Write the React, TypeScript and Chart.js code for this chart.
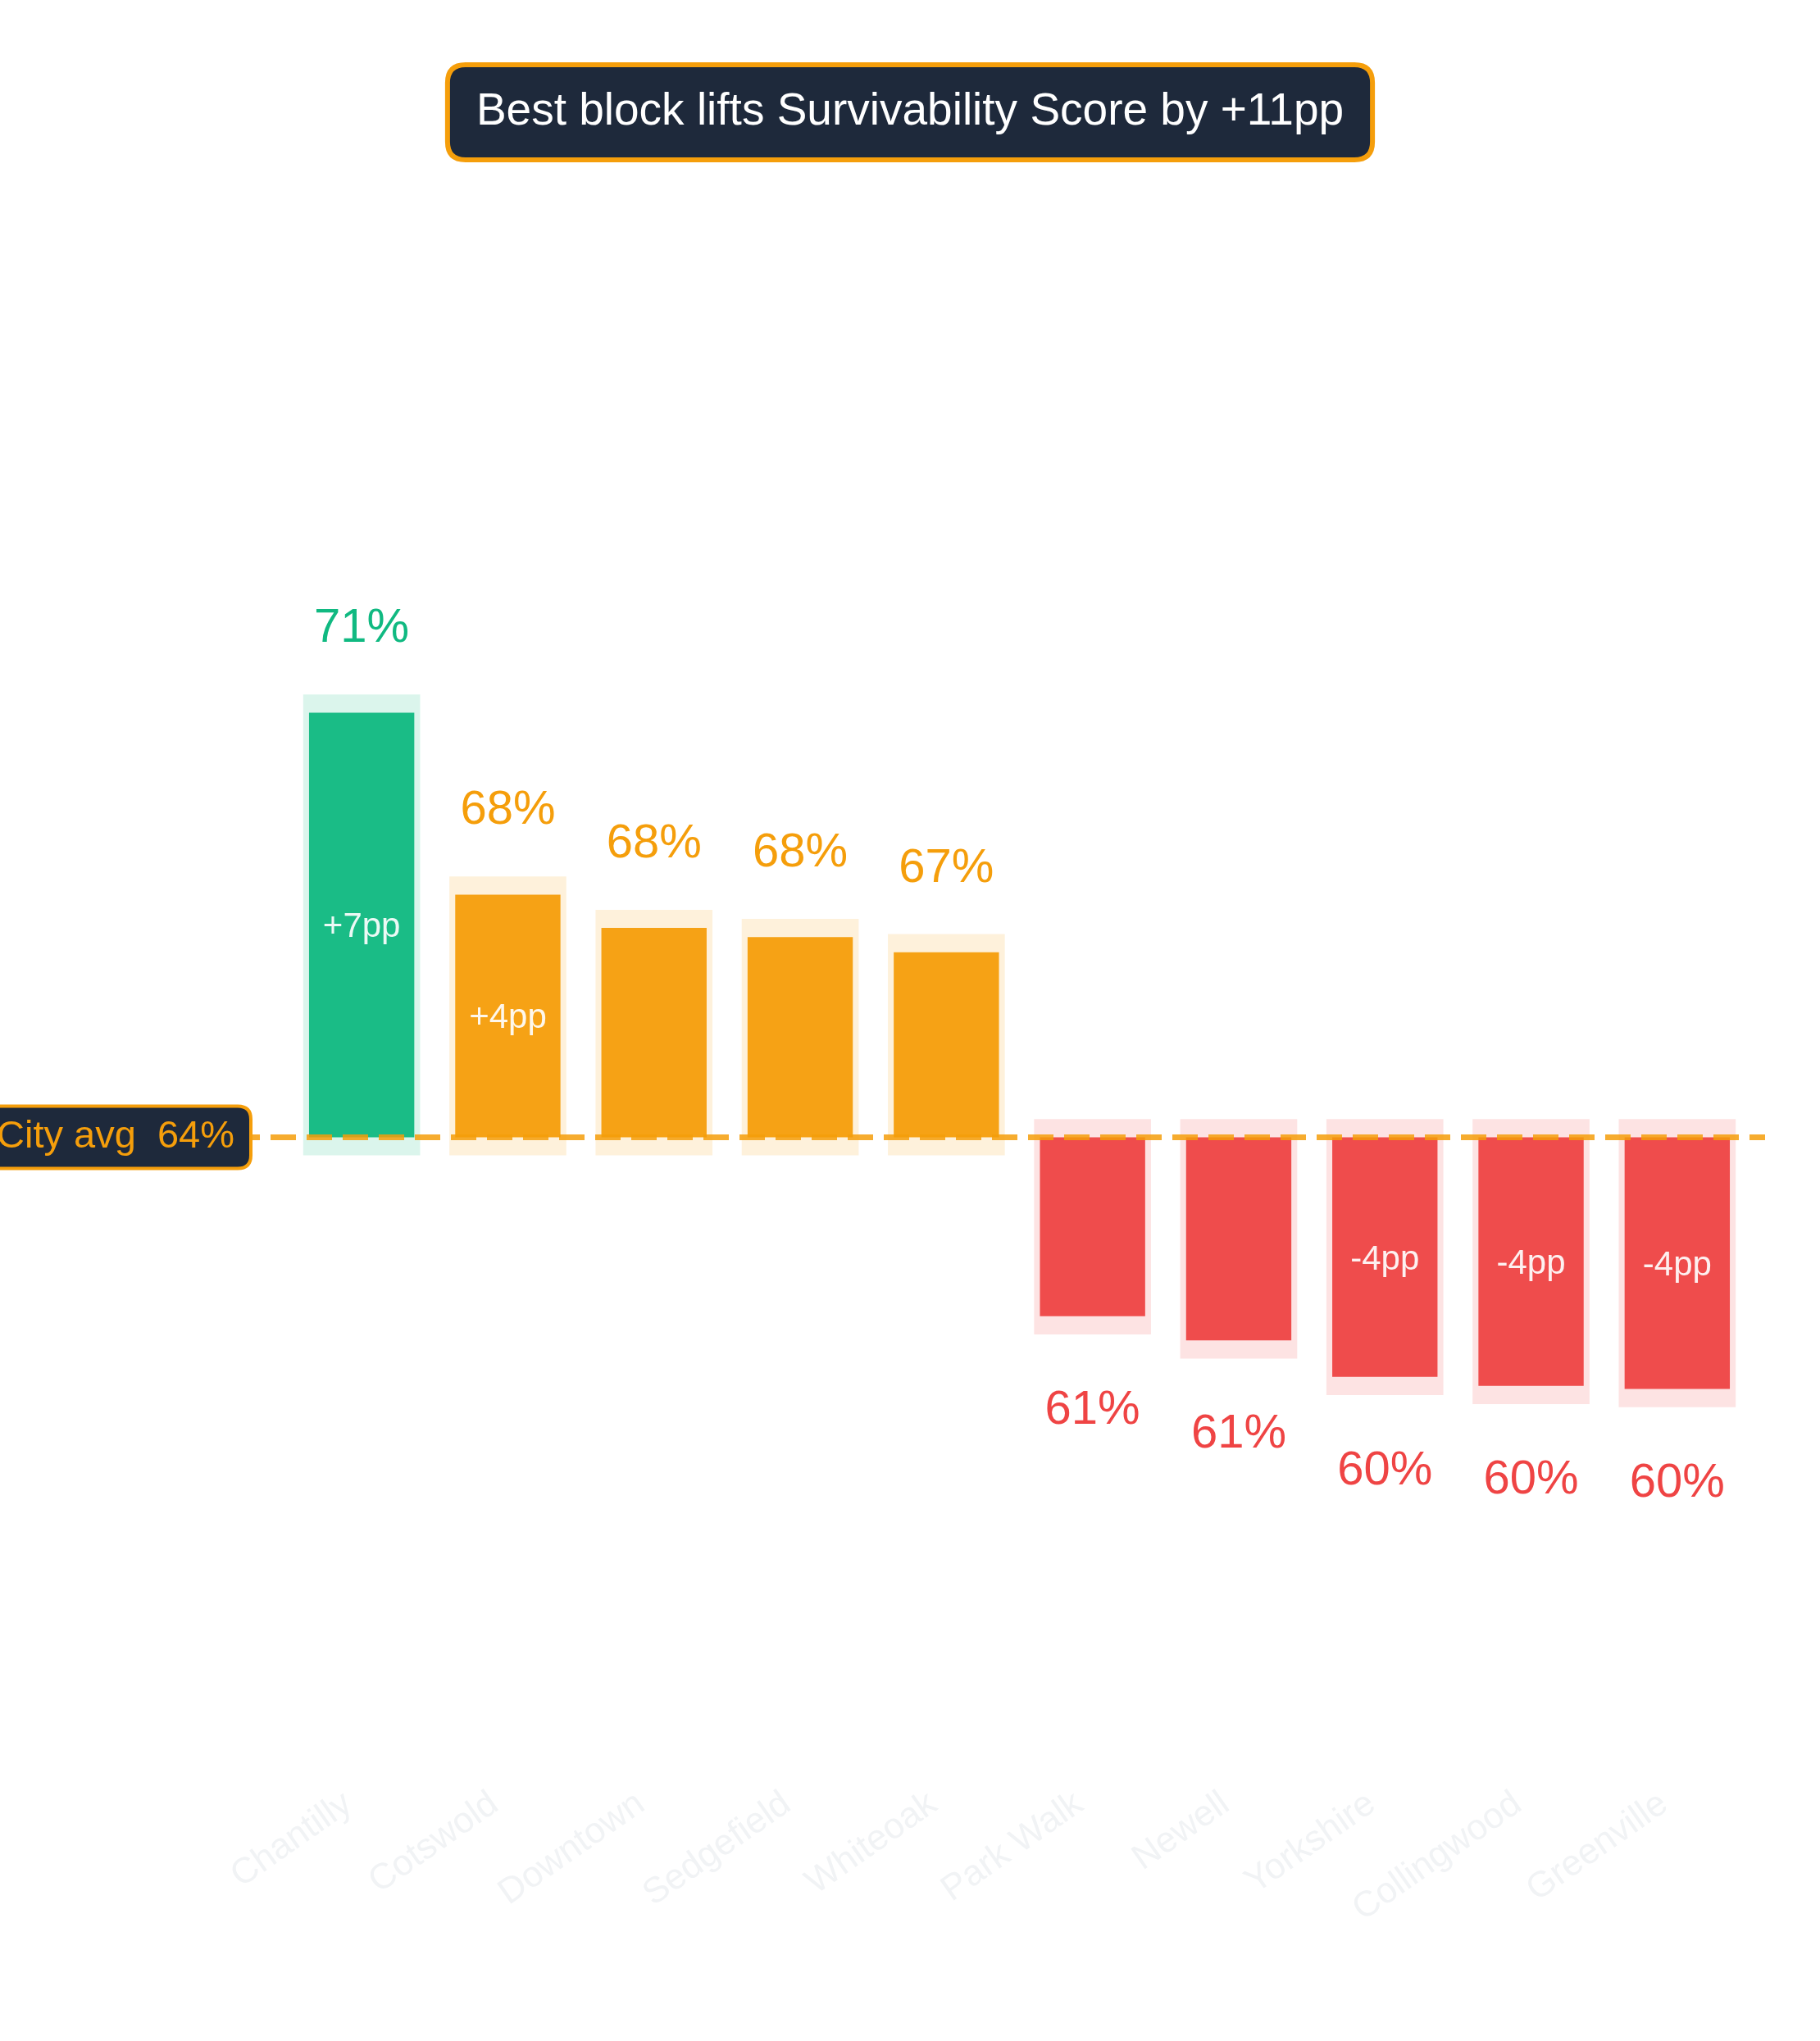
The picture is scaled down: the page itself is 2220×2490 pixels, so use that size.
import { useEffect, useRef } from "react";
import { Chart, registerables } from "chart.js";

Chart.register(...registerables);

const blocks = [
  "Chantilly",
  "Cotswold",
  "Downtown",
  "Sedgefield",
  "Whiteoak",
  "Park Walk",
  "Newell",
  "Yorkshire",
  "Collingwood",
  "Greenville",
];
const scores = [71.4, 68.4, 67.85, 67.7, 67.45, 61.45, 61.05, 60.45, 60.3, 60.25];
const cityAvg = 64.4;

const FONT = '"Liberation Sans", Arial, Helvetica, sans-serif';
const NAVY = "#1e293b";
const GREEN = "16, 185, 129";
const AMBER = "245, 158, 11";
const RED = "239, 68, 68";

const best = Math.max(...scores);
const worst = Math.min(...scores);
const tone = (v: number) => (v === best ? GREEN : v >= cityAvg ? AMBER : RED);

function roundRect(ctx: CanvasRenderingContext2D, x: number, y: number, w: number, h: number, r: number) {
  ctx.beginPath();
  ctx.moveTo(x + r, y);
  ctx.lineTo(x + w - r, y);
  ctx.quadraticCurveTo(x + w, y, x + w, y + r);
  ctx.lineTo(x + w, y + h - r);
  ctx.quadraticCurveTo(x + w, y + h, x + w - r, y + h);
  ctx.lineTo(x + r, y + h);
  ctx.quadraticCurveTo(x, y + h, x, y + h - r);
  ctx.lineTo(x, y + r);
  ctx.quadraticCurveTo(x, y, x + r, y);
  ctx.closePath();
}

const overlay = {
  id: "overlay",
  afterDatasetsDraw(chart: any) {
    const { ctx, chartArea } = chart;
    const xs = chart.scales.x;
    const ys = chart.scales.y;
    const avgY = ys.getPixelForValue(cityAvg);

    ctx.save();
    // city average dashed line
    ctx.strokeStyle = `rgba(${AMBER}, 0.85)`;
    ctx.lineWidth = 7;
    ctx.setLineDash([31, 13]);
    ctx.beginPath();
    ctx.moveTo(22, avgY);
    ctx.lineTo(chartArea.right + 18, avgY);
    ctx.stroke();
    ctx.setLineDash([]);

    scores.forEach((v, i) => {
      const x = xs.getPixelForValue(i);
      const y = ys.getPixelForValue(v);
      const delta = v - cityAvg;
      const d = Math.round(delta);

      // delta inside the bar, only for the big movers
      if (Math.abs(d) >= 4) {
        ctx.font = `42px ${FONT}`;
        ctx.fillStyle = "rgba(255,255,255,0.92)";
        ctx.textAlign = "center";
        ctx.textBaseline = "alphabetic";
        ctx.fillText(`${d > 0 ? "+" : ""}${d}pp`, x, (y + avgY) / 2 + 15);
      }

      // value label
      ctx.font = `58px ${FONT}`;
      ctx.fillStyle = `rgb(${tone(v)})`;
      ctx.textAlign = "center";
      ctx.textBaseline = "alphabetic";
      const ly = delta >= 0 ? y - 86 : y + 131;
      ctx.fillText(`${Math.round(v)}%`, x, ly);
    });

    // city avg tag
    const tag = `City avg  ${Math.round(cityAvg)}%`;
    ctx.font = `47px ${FONT}`;
    const tw = ctx.measureText(tag).width;
    const right = 306;
    const bx = right - tw - 40;
    roundRect(ctx, bx, avgY - 38, tw + 40, 76, 16);
    ctx.fillStyle = NAVY;
    ctx.fill();
    ctx.lineWidth = 4;
    ctx.strokeStyle = `rgb(${AMBER})`;
    ctx.stroke();
    ctx.fillStyle = `rgb(${AMBER})`;
    ctx.textAlign = "right";
    ctx.textBaseline = "alphabetic";
    ctx.fillText(tag, right - 20, avgY + 13);
    ctx.restore();
  },
  afterDraw(chart: any) {
    const { ctx, width } = chart;
    const text = `Best block lifts Survivability Score by +${Math.round(best - worst)}pp`;
    ctx.save();
    ctx.font = `55px ${FONT}`;
    const tw = ctx.measureText(text).width;
    const w = tw + 70;
    const h = 116;
    const x = width / 2 - w / 2;
    const y = 79;
    roundRect(ctx, x, y, w, h, 22);
    ctx.fillStyle = NAVY;
    ctx.fill();
    ctx.lineWidth = 6;
    ctx.strokeStyle = `rgb(${AMBER})`;
    ctx.stroke();
    ctx.fillStyle = "#ffffff";
    ctx.textAlign = "center";
    ctx.textBaseline = "alphabetic";
    ctx.fillText(text, width / 2, 152);
    ctx.restore();
  },
};

function BlockChart() {
  const chartRef = useRef<HTMLCanvasElement | null>(null);

  useEffect(() => {
    const canvas = chartRef.current;
    if (!canvas) return;
    document.body.style.margin = "0";

    const chart = new Chart(canvas, {
      type: "bar",
      data: {
        labels: blocks,
        datasets: [
          {
            label: "Survivability Score",
            data: scores.map((v) => [cityAvg, v]) as any,
            backgroundColor: scores.map((v) => `rgba(${tone(v)}, 0.95)`),
            barPercentage: 0.72,
            categoryPercentage: 1,
            grouped: false,
            order: 0,
          },
          {
            label: "band",
            data: scores.map((v) => [Math.min(v, cityAvg) - 0.3, Math.max(v, cityAvg) + 0.3]) as any,
            backgroundColor: scores.map((v) => `rgba(${tone(v)}, 0.15)`),
            barPercentage: 0.8,
            categoryPercentage: 1,
            grouped: false,
            order: 1,
          },
        ],
      },
      options: {
        responsive: true,
        maintainAspectRatio: false,
        animation: false,
        layout: {
          padding: { top: 233, left: 352, right: 85, bottom: 0 },
        },
        plugins: {
          legend: { display: false },
          tooltip: { enabled: false },
        },
        scales: {
          x: {
            grid: { display: false },
            border: { display: false },
            ticks: {
              color: "#f1f3f5",
              font: { size: 44, family: FONT },
              minRotation: 35,
              maxRotation: 35,
              autoSkip: false,
              padding: 10,
              labelOffset: -16,
            },
            afterFit: (scale: any) => {
              scale.height = 333;
            },
          },
          y: {
            display: false,
            min: 54,
            max: 80,
          },
        },
      },
      plugins: [overlay],
    });

    return () => {
      chart.destroy();
    };
  }, []);

  return (
    <div style={{ position: "relative", width: "2220px", height: "2490px" }}>
      <canvas ref={chartRef} />
    </div>
  );
}

export default function App() {
  return <BlockChart />;
}
